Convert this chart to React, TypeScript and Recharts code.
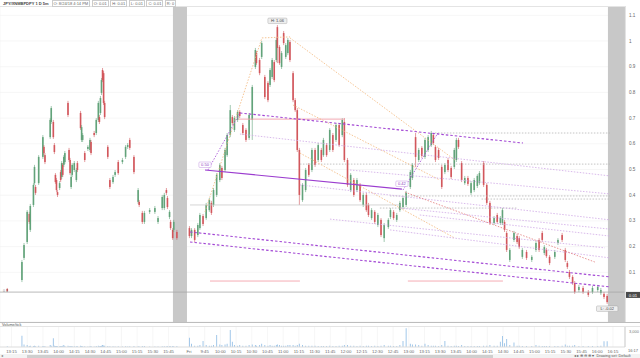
import React from 'react';
import {
  ComposedChart,
  BarChart,
  Bar,
  XAxis,
  YAxis,
  CartesianGrid,
  ReferenceArea,
  ReferenceLine,
  ReferenceDot,
} from 'recharts';

// [t (session minute on continuous axis), open, high, low, close, volume]
type Row = [number, number, number, number, number, number];

const thuBars: Row[] = [
  [7, 0.035, 0.039, 0.023, 0.027, 100],
  [21, 0.07, 0.148, 0.062, 0.14, 1780],
  [23, 0.156, 0.214, 0.148, 0.206, 400],
  [26, 0.218, 0.342, 0.21, 0.335, 300],
  [28, 0.327, 0.335, 0.288, 0.296, 150],
  [29, 0.265, 0.366, 0.257, 0.358, 200],
  [32, 0.362, 0.447, 0.354, 0.44, 150],
  [33, 0.447, 0.518, 0.44, 0.51, 200],
  [34, 0.432, 0.44, 0.401, 0.409, 100],
  [37, 0.447, 0.556, 0.44, 0.549, 200],
  [41, 0.549, 0.634, 0.541, 0.626, 150],
  [42, 0.588, 0.595, 0.556, 0.564, 100],
  [43, 0.556, 0.564, 0.521, 0.529, 100],
  [48, 0.626, 0.7, 0.619, 0.693, 300],
  [49, 0.685, 0.747, 0.677, 0.739, 200],
  [51, 0.685, 0.693, 0.619, 0.626, 1370],
  [52, 0.595, 0.603, 0.56, 0.568, 200],
  [53, 0.479, 0.486, 0.444, 0.451, 150],
  [54, 0.459, 0.467, 0.412, 0.42, 150],
  [55, 0.412, 0.42, 0.393, 0.401, 100],
  [57, 0.428, 0.455, 0.42, 0.447, 100],
  [58, 0.49, 0.498, 0.451, 0.459, 150],
  [59, 0.471, 0.533, 0.463, 0.525, 150],
  [60, 0.518, 0.525, 0.471, 0.479, 200],
  [61, 0.518, 0.556, 0.51, 0.549, 300],
  [62, 0.529, 0.572, 0.521, 0.564, 150],
  [65, 0.759, 0.767, 0.704, 0.712, 200],
  [66, 0.576, 0.584, 0.529, 0.537, 100],
  [67, 0.537, 0.545, 0.479, 0.486, 150],
  [68, 0.432, 0.479, 0.424, 0.471, 150],
  [69, 0.479, 0.525, 0.471, 0.518, 100],
  [71, 0.498, 0.533, 0.49, 0.525, 100],
  [73, 0.459, 0.506, 0.451, 0.498, 100],
  [74, 0.525, 0.533, 0.49, 0.498, 100],
  [77, 0.72, 0.728, 0.654, 0.661, 200],
  [78, 0.615, 0.673, 0.607, 0.665, 150],
  [79, 0.615, 0.642, 0.607, 0.634, 100],
  [81, 0.564, 0.572, 0.529, 0.537, 100],
  [84, 0.58, 0.595, 0.572, 0.588, 80],
  [86, 0.576, 0.623, 0.568, 0.615, 100],
  [87, 0.607, 0.615, 0.556, 0.564, 150],
  [90, 0.642, 0.65, 0.626, 0.634, 80],
  [92, 0.642, 0.7, 0.634, 0.693, 150],
  [94, 0.693, 0.767, 0.685, 0.759, 200],
  [95, 0.704, 0.712, 0.677, 0.685, 100],
  [96, 0.72, 0.786, 0.712, 0.778, 150],
  [97, 0.798, 0.856, 0.79, 0.848, 200],
  [98, 0.887, 0.895, 0.84, 0.848, 300],
  [99, 0.875, 0.883, 0.751, 0.759, 250],
  [100, 0.759, 0.767, 0.696, 0.704, 200],
  [103, 0.588, 0.595, 0.541, 0.549, 150],
  [105, 0.459, 0.467, 0.424, 0.432, 100],
  [108, 0.451, 0.479, 0.444, 0.471, 100],
  [110, 0.479, 0.498, 0.471, 0.49, 80],
  [113, 0.529, 0.537, 0.479, 0.486, 100],
  [117, 0.529, 0.545, 0.521, 0.537, 80],
  [120, 0.549, 0.595, 0.541, 0.588, 100],
  [122, 0.588, 0.603, 0.58, 0.595, 80],
  [124, 0.615, 0.623, 0.576, 0.584, 100],
  [128, 0.549, 0.556, 0.482, 0.49, 150],
  [132, 0.374, 0.428, 0.366, 0.42, 100],
  [133, 0.374, 0.381, 0.354, 0.362, 80],
  [136, 0.331, 0.339, 0.288, 0.296, 150],
  [138, 0.296, 0.339, 0.288, 0.331, 150],
  [143, 0.335, 0.35, 0.327, 0.342, 80],
  [148, 0.335, 0.358, 0.327, 0.35, 80],
  [151, 0.296, 0.319, 0.288, 0.311, 80],
  [155, 0.35, 0.401, 0.342, 0.393, 100],
  [157, 0.35, 0.409, 0.342, 0.401, 100],
  [159, 0.42, 0.428, 0.401, 0.409, 80],
  [160, 0.389, 0.397, 0.346, 0.354, 100],
  [162, 0.315, 0.342, 0.307, 0.335, 100],
  [163, 0.296, 0.304, 0.265, 0.272, 100],
  [165, 0.265, 0.272, 0.226, 0.233, 150],
  [166, 0.265, 0.304, 0.257, 0.296, 100],
  [169, 0.257, 0.265, 0.226, 0.233, 150],
];

const friAmBars: Row[] = [
  [181, 0.272, 0.28, 0.233, 0.241, 1460],
  [183, 0.241, 0.272, 0.233, 0.265, 500],
  [186, 0.265, 0.272, 0.218, 0.226, 200],
  [189, 0.245, 0.292, 0.237, 0.284, 200],
  [191, 0.272, 0.331, 0.265, 0.323, 300],
  [194, 0.319, 0.327, 0.28, 0.288, 945],
  [197, 0.311, 0.37, 0.304, 0.362, 300],
  [200, 0.342, 0.389, 0.335, 0.381, 200],
  [202, 0.37, 0.378, 0.323, 0.331, 200],
  [204, 0.362, 0.428, 0.354, 0.42, 300],
  [207, 0.401, 0.486, 0.393, 0.479, 1890],
  [210, 0.459, 0.525, 0.451, 0.518, 400],
  [212, 0.506, 0.514, 0.459, 0.467, 300],
  [215, 0.498, 0.584, 0.49, 0.576, 400],
  [217, 0.556, 0.642, 0.549, 0.634, 500],
  [220, 0.634, 0.751, 0.626, 0.731, 2680],
  [222, 0.704, 0.712, 0.673, 0.681, 830],
  [224, 0.654, 0.708, 0.646, 0.7, 300],
  [227, 0.693, 0.731, 0.685, 0.724, 200],
  [229, 0.724, 0.731, 0.7, 0.708, 300],
  [232, 0.673, 0.681, 0.634, 0.642, 200],
  [235, 0.654, 0.661, 0.607, 0.615, 200],
  [238, 0.623, 0.72, 0.615, 0.712, 300],
  [241, 0.693, 0.829, 0.615, 0.821, 400],
  [244, 0.899, 0.973, 0.891, 0.965, 300],
  [245, 0.953, 0.961, 0.907, 0.914, 200],
  [248, 0.926, 0.934, 0.867, 0.875, 300],
  [250, 0.938, 1.0, 0.93, 0.992, 500],
  [253, 0.86, 0.868, 0.774, 0.782, 300],
  [256, 0.837, 0.844, 0.762, 0.77, 200],
  [258, 0.829, 0.895, 0.821, 0.887, 300],
  [260, 0.86, 0.934, 0.852, 0.926, 200],
  [262, 0.918, 0.926, 0.84, 0.848, 200],
  [264, 0.926, 1.012, 0.918, 1.004, 300],
  [265, 1.054, 1.062, 0.914, 0.973, 400],
  [267, 0.977, 0.984, 0.907, 0.914, 300],
  [269, 0.899, 0.961, 0.891, 0.953, 200],
  [271, 1.031, 1.039, 0.984, 0.992, 200],
  [273, 0.938, 0.992, 0.93, 0.984, 200],
  [275, 0.953, 1.012, 0.945, 1.004, 300],
  [277, 0.996, 1.004, 0.918, 0.926, 300],
  [280, 0.875, 0.883, 0.762, 0.77, 300],
  [282, 0.77, 0.778, 0.724, 0.731, 200],
  [284, 0.731, 0.739, 0.568, 0.576, 300],
  [286, 0.576, 0.584, 0.362, 0.401, 500],
  [289, 0.381, 0.447, 0.374, 0.44, 300],
  [292, 0.42, 0.506, 0.412, 0.498, 200],
  [295, 0.518, 0.525, 0.471, 0.479, 200],
  [298, 0.498, 0.584, 0.49, 0.576, 200],
  [301, 0.576, 0.584, 0.51, 0.518, 200],
  [304, 0.537, 0.603, 0.529, 0.595, 150],
  [307, 0.576, 0.584, 0.529, 0.537, 150],
  [309, 0.556, 0.623, 0.549, 0.615, 150],
  [312, 0.595, 0.603, 0.549, 0.556, 150],
  [315, 0.576, 0.661, 0.568, 0.654, 200],
  [318, 0.634, 0.642, 0.568, 0.576, 150],
  [321, 0.615, 0.681, 0.607, 0.673, 150],
  [324, 0.673, 0.681, 0.588, 0.595, 200],
  [327, 0.634, 0.7, 0.626, 0.693, 200],
  [329, 0.685, 0.7, 0.529, 0.537, 300],
  [332, 0.537, 0.545, 0.432, 0.44, 300],
  [335, 0.42, 0.486, 0.412, 0.479, 200],
  [338, 0.459, 0.467, 0.393, 0.401, 200],
  [341, 0.42, 0.467, 0.412, 0.459, 150],
  [344, 0.44, 0.447, 0.374, 0.381, 200],
  [347, 0.362, 0.409, 0.354, 0.401, 150],
  [350, 0.401, 0.409, 0.335, 0.342, 200],
  [352, 0.362, 0.37, 0.315, 0.323, 200],
  [355, 0.311, 0.35, 0.304, 0.342, 150],
  [358, 0.335, 0.342, 0.288, 0.296, 200],
  [361, 0.284, 0.331, 0.276, 0.323, 150],
  [364, 0.304, 0.311, 0.237, 0.245, 200],
  [367, 0.233, 0.292, 0.218, 0.284, 300],
];

const friPmBars: Row[] = [
  [371, 0.276, 0.311, 0.269, 0.304, 200],
  [373, 0.315, 0.35, 0.307, 0.342, 200],
  [376, 0.335, 0.342, 0.304, 0.311, 150],
  [379, 0.304, 0.331, 0.296, 0.323, 150],
  [382, 0.342, 0.378, 0.335, 0.37, 300],
  [385, 0.354, 0.397, 0.346, 0.389, 945],
  [388, 0.362, 0.417, 0.354, 0.409, 2945],
  [392, 0.432, 0.498, 0.424, 0.49, 500],
  [394, 0.467, 0.525, 0.459, 0.518, 400],
  [397, 0.626, 0.642, 0.51, 0.549, 400],
  [400, 0.537, 0.584, 0.529, 0.576, 300],
  [403, 0.584, 0.591, 0.545, 0.553, 200],
  [406, 0.549, 0.623, 0.541, 0.615, 500],
  [409, 0.576, 0.634, 0.568, 0.626, 300],
  [412, 0.595, 0.65, 0.588, 0.642, 200],
  [414, 0.634, 0.642, 0.595, 0.603, 200],
  [416, 0.588, 0.595, 0.529, 0.537, 200],
  [419, 0.576, 0.584, 0.537, 0.545, 150],
  [422, 0.51, 0.518, 0.424, 0.432, 300],
  [425, 0.49, 0.525, 0.482, 0.518, 945],
  [428, 0.537, 0.545, 0.49, 0.498, 200],
  [431, 0.506, 0.514, 0.463, 0.471, 150],
  [434, 0.51, 0.584, 0.502, 0.576, 200],
  [436, 0.537, 0.623, 0.529, 0.615, 200],
  [438, 0.615, 0.623, 0.58, 0.588, 150],
  [441, 0.525, 0.533, 0.451, 0.459, 300],
  [444, 0.447, 0.475, 0.44, 0.467, 150],
  [447, 0.467, 0.475, 0.436, 0.444, 150],
  [450, 0.409, 0.455, 0.401, 0.447, 150],
  [453, 0.42, 0.467, 0.412, 0.459, 150],
  [456, 0.436, 0.482, 0.428, 0.475, 150],
  [458, 0.447, 0.494, 0.44, 0.486, 150],
  [462, 0.525, 0.533, 0.432, 0.44, 200],
  [465, 0.44, 0.447, 0.362, 0.37, 200],
  [468, 0.37, 0.378, 0.284, 0.292, 300],
  [472, 0.292, 0.319, 0.284, 0.311, 200],
  [475, 0.323, 0.331, 0.288, 0.296, 200],
  [478, 0.292, 0.319, 0.284, 0.311, 830],
  [480, 0.292, 0.35, 0.284, 0.342, 1730],
  [482, 0.296, 0.304, 0.257, 0.265, 600],
  [484, 0.253, 0.261, 0.179, 0.187, 1260],
  [487, 0.148, 0.195, 0.14, 0.187, 300],
  [491, 0.226, 0.261, 0.218, 0.253, 700],
  [494, 0.241, 0.249, 0.21, 0.218, 200],
  [496, 0.233, 0.241, 0.191, 0.198, 200],
  [499, 0.16, 0.195, 0.152, 0.187, 150],
  [503, 0.179, 0.187, 0.148, 0.156, 150],
  [508, 0.148, 0.167, 0.14, 0.16, 150],
  [512, 0.187, 0.222, 0.179, 0.214, 300],
  [515, 0.226, 0.233, 0.179, 0.187, 200],
  [518, 0.253, 0.261, 0.218, 0.226, 150],
  [520, 0.175, 0.206, 0.167, 0.198, 150],
  [522, 0.187, 0.195, 0.156, 0.163, 150],
  [525, 0.16, 0.167, 0.128, 0.136, 150],
  [530, 0.16, 0.187, 0.152, 0.179, 150],
  [533, 0.214, 0.233, 0.206, 0.226, 150],
  [537, 0.245, 0.253, 0.218, 0.226, 200],
  [540, 0.187, 0.195, 0.14, 0.148, 400],
  [542, 0.136, 0.144, 0.113, 0.121, 200],
  [544, 0.101, 0.109, 0.074, 0.082, 200],
  [547, 0.082, 0.089, 0.051, 0.058, 200],
  [549, 0.058, 0.066, 0.016, 0.023, 300],
  [553, 0.031, 0.051, 0.023, 0.043, 150],
  [557, 0.039, 0.047, 0.016, 0.023, 150],
  [562, 0.023, 0.031, 0.004, 0.012, 150],
  [566, 0.023, 0.047, 0.016, 0.039, 150],
  [571, 0.031, 0.051, 0.023, 0.043, 150],
  [574, 0.019, 0.039, 0.012, 0.031, 200],
  [577, 0.016, 0.023, -0.004, 0.004, 900],
  [580, 0.008, 0.016, -0.023, -0.016, 900],
];

// time-axis labels
const thuTimes = ['13:15', '13:30', '13:45', '14:00', '14:15', '14:30', '14:45', '15:00', '15:15', '15:30', '15:45'];
const friTimes = [
  '9:30', '9:45', '10:00', '10:15', '10:30', '10:45', '11:00', '11:15', '11:30', '11:45',
  '12:00', '12:15', '12:30', '12:45', '13:00', '13:15', '13:30', '13:45', '14:00', '14:15',
  '14:30', '14:45', '15:00', '15:15', '15:30', '15:45', '16:00', '16:15',
];
const priceTicks = [0.1, 0.2, 0.3, 0.4, 0.5, 0.6, 0.7, 0.8, 0.9, 1, 1.1];
const volumeTicks = [0, 1000, 2000, 3000];

// drawing-tool segments: [t1, price1, t2, price2]
const pitchforkMedian = [[195.8, 0.498, 383.9, 0.424]];
const pitchforkHandles = [
  [198.6, 0.498, 229.2, 0.72],
  [384.9, 0.42, 418.3, 0.642],
];
const purpleDashed = [
  [229.2, 0.72, 499.5, 0.603],
  [181.5, 0.257, 582.6, 0.082],
  [181.5, 0.218, 582.6, 0.043],
];
const purpleDotted = [
  [229.2, 0.638, 582.6, 0.475],
  [334.3, 0.498, 582.6, 0.405],
  [286.5, 0.44, 582.6, 0.304],
  [382, 0.35, 582.6, 0.268],
  [401, 0.323, 582.6, 0.241],
  [372.5, 0.265, 582.6, 0.156],
  [315.2, 0.307, 577.8, 0.195],
];
const grayDotted = [
  [415.4, 0.642, 582.6, 0.642],
  [286.5, 0.521, 582.6, 0.521],
  [372.5, 0.397, 582.6, 0.397],
  [460, 0.385, 582.6, 0.385],
  [362.9, 0.35, 493.7, 0.35],
];
const graySolid = [[181.5, 0.362, 382, 0.362]];
const orangeDotted = [
  [195.8, 0.335, 250.2, 1.012],
  [250.2, 1.012, 277, 1.016],
  [277, 1.012, 434.5, 0.537],
  [279.8, 0.751, 420.2, 0.459],
  [286.5, 0.564, 434.5, 0.233],
];
const redDotted = [[386.8, 0.412, 568.2, 0.14]];
const pinkSolid = [
  [200.6, 0.066, 286.5, 0.066],
  [389.6, 0.066, 480.4, 0.066],
  [227.3, 0.696, 329.5, 0.696],
];
const horizontalPrice = 0.023;
const lastPrice = 0.012;
const highMark = { t: 265, p: 1.062, text: 'H: 1.06' };
const lowMark = { t: 580, p: -0.023, text: 'L: -0.02' };
const forkLabels = [
  { t: 195.8, p: 0.498, text: '0.50' },
  { t: 383.9, p: 0.424, text: '0.42' },
];
const sessionBands = [
  [165.2, 178.6],
  [580.7, 597],
];

const X_DOMAIN: [number, number] = [0, 597];
const Y_DOMAIN: [number, number] = [-0.0934, 1.1362];
const GREEN = '#62a37a';
const RED = '#d2575c';
const FONT = '"Liberation Sans", Arial, sans-serif';

const toMin = (s: string) => {
  const [h, m] = s.split(':').map(Number);
  return h * 60 + m;
};
// session clock -> continuous axis minute (overnight compressed)
const thuAxis = (s: string) => toMin(s) - 784;
const friAxis = (s: string) => toMin(s) - 389.5;

const timeTicks = [
  ...thuTimes.map((s) => ({ t: thuAxis(s), label: s })),
  ...friTimes.map((s, i) => ({ t: friAxis(s), label: i === 0 ? 'Fri' : s })),
];
const tickValues = timeTicks.map((d) => d.t);
const tickLabel = (v: number) => {
  const f = timeTicks.find((d) => Math.abs(d.t - v) < 0.01);
  return f ? f.label : '';
};

const bars = [...thuBars, ...friAmBars, ...friPmBars].map(([t, o, h, l, c, v]) => ({
  t,
  o,
  h,
  l,
  c,
  v,
  range: [l, h],
}));

const Candle = (props: any) => {
  const { x, y, width, height, payload } = props;
  if (!payload || x == null || y == null) return null;
  const { o, h, l, c } = payload;
  const color = c >= o ? GREEN : RED;
  const cx = x + width / 2;
  const span = h - l || 1e-9;
  const yo = y + ((h - o) / span) * height;
  const yc = y + ((h - c) / span) * height;
  const top = Math.min(yo, yc);
  const bh = Math.max(Math.abs(yo - yc), 1);
  return (
    <g>
      <line x1={cx} x2={cx} y1={y} y2={y + height} stroke={color} strokeWidth={0.6} />
      <rect x={cx - 0.8} y={top} width={1.6} height={bh} fill={color} />
    </g>
  );
};

const seg = (s: number[]) => [
  { x: s[0], y: s[1] },
  { x: s[2], y: s[3] },
];

const PriceTick = (props: any) => {
  const { x, y, payload } = props;
  const v = Number(payload.value.toFixed(1));
  return (
    <text x={x + 2} y={y + 1.6} fontSize={4.6} fill="#666" fontFamily={FONT}>
      {String(v)}
    </text>
  );
};

const TimeTick = (props: any) => {
  const { x, y, payload } = props;
  return (
    <text x={x} y={y + 4} fontSize={4.3} fill="#666" textAnchor="middle" fontFamily={FONT}>
      {tickLabel(payload.value)}
    </text>
  );
};

const VolTick = (props: any) => {
  const { x, y, payload } = props;
  return (
    <text x={x + 2} y={y + 1.5} fontSize={4} fill="#777" fontFamily={FONT}>
      {Number(payload.value).toLocaleString('en-US')}
    </text>
  );
};

const boxLabel = (text: string, fill: string, stroke: string, color: string, dy: number) =>
  (p: any) => {
    const w = text.length * 2.3 + 3;
    return (
      <g>
        <rect x={p.cx - w / 2} y={p.cy + dy} width={w} height={5.5} rx={1} fill={fill} stroke={stroke} strokeWidth={0.4} />
        <text x={p.cx} y={p.cy + dy + 4.2} fontSize={4} textAnchor="middle" fill={color} fontFamily={FONT}>
          {text}
        </text>
      </g>
    );
  };

const headerItems = ['O: 8/24/18 4:14 PM', 'O: 0.01', 'H: 0.01', 'L: 0.01', 'C: 0.01', 'R: 0'];

export default function App() {
  return (
    <div
      style={{
        position: 'absolute',
        left: 0,
        top: 0,
        width: 640,
        height: 358,
        background: '#fff',
        fontFamily: FONT,
        overflow: 'hidden',
      }}
    >
      <div style={{ position: 'absolute', left: 0, top: 0 }}>
        <ComposedChart width={640} height={322} data={bars} margin={{ top: 6, right: 0, left: 0, bottom: 0 }}>
          <CartesianGrid stroke="#f0f0f0" strokeWidth={0.6} />
          <XAxis
            dataKey="t"
            type="number"
            domain={X_DOMAIN}
            ticks={tickValues}
            tick={false}
            tickLine={false}
            axisLine={false}
            height={0}
            allowDataOverflow
          />
          <YAxis
            orientation="right"
            width={15}
            domain={Y_DOMAIN}
            ticks={priceTicks}
            tick={<PriceTick />}
            tickLine={false}
            tickSize={0}
            axisLine={{ stroke: '#cccccc' }}
            allowDataOverflow
          />
          {sessionBands.map((b, i) => (
            <ReferenceArea key={'band' + i} x1={b[0]} x2={b[1]} fill="#c8c8c8" fillOpacity={1} stroke="none" ifOverflow="visible" />
          ))}
          <ReferenceLine y={horizontalPrice} stroke="#a8a8a8" strokeWidth={0.8} />
          {graySolid.map((s, i) => (
            <ReferenceLine key={'gs' + i} segment={seg(s)} stroke="#c4c4c4" strokeWidth={0.7} />
          ))}
          {pinkSolid.map((s, i) => (
            <ReferenceLine key={'pk' + i} segment={seg(s)} stroke="#f4a3ad" strokeWidth={0.9} />
          ))}
          {grayDotted.map((s, i) => (
            <ReferenceLine key={'gd' + i} segment={seg(s)} stroke="#b5b5b5" strokeWidth={0.8} strokeDasharray="1.5 1.5" />
          ))}
          {orangeDotted.map((s, i) => (
            <ReferenceLine key={'od' + i} segment={seg(s)} stroke="#f2b67a" strokeWidth={0.8} strokeDasharray="1.5 1.5" />
          ))}
          {purpleDotted.map((s, i) => (
            <ReferenceLine key={'pd' + i} segment={seg(s)} stroke="#cfa8e6" strokeWidth={0.8} strokeDasharray="1.5 1.5" />
          ))}
          {redDotted.map((s, i) => (
            <ReferenceLine key={'rd' + i} segment={seg(s)} stroke="#e27a7a" strokeWidth={0.8} strokeDasharray="1.5 1.5" />
          ))}
          <Bar dataKey="range" shape={<Candle />} barSize={2} isAnimationActive={false} />
          {purpleDashed.map((s, i) => (
            <ReferenceLine key={'pD' + i} segment={seg(s)} stroke="#a246d4" strokeWidth={1.1} strokeDasharray="2.5 2" />
          ))}
          {pitchforkHandles.map((s, i) => (
            <ReferenceLine key={'ph' + i} segment={seg(s)} stroke="#a246d4" strokeWidth={0.8} strokeDasharray="1.5 1.5" />
          ))}
          {pitchforkMedian.map((s, i) => (
            <ReferenceLine key={'pm' + i} segment={seg(s)} stroke="#9b3ccf" strokeWidth={1.2} />
          ))}
          {forkLabels.map((f, i) => (
            <ReferenceDot
              key={'fl' + i}
              x={f.t}
              y={f.p}
              r={0}
              shape={boxLabel(f.text, '#ffffff', '#b27ad8', '#8e3bc2', -8)}
            />
          ))}
          <ReferenceDot x={highMark.t} y={highMark.p} r={0} shape={boxLabel(highMark.text, '#eeeeee', '#9a9a9a', '#444', -7)} />
          <ReferenceDot x={lowMark.t} y={lowMark.p} r={0} shape={boxLabel(lowMark.text, '#eeeeee', '#9a9a9a', '#444', 2)} />
          <ReferenceDot
            x={X_DOMAIN[1]}
            y={lastPrice}
            r={0}
            shape={(p: any) => (
              <g>
                <rect x={p.cx + 1} y={p.cy - 3} width={14} height={6} fill="#4a4a4a" />
                <text x={p.cx + 8} y={p.cy + 1.6} fontSize={4.3} fill="#fff" textAnchor="middle" fontFamily={FONT}>
                  0.01
                </text>
              </g>
            )}
          />
        </ComposedChart>
      </div>

      {/* header */}
      <div
        style={{
          position: 'absolute',
          left: 0,
          top: 0,
          width: 625,
          height: 6,
          borderBottom: '1px solid #e4e4e4',
          display: 'flex',
          alignItems: 'center',
          fontSize: 4,
          lineHeight: '5px',
          color: '#444',
          background: '#fff',
        }}
      >
        <span style={{ fontWeight: 700, marginLeft: 3, marginRight: 3 }}>JPY/XNMBPDPY 1 D 5m</span>
        {headerItems.map((s, i) => (
          <span key={i} style={{ border: '0.5px solid #ccc', padding: '0 1px', marginRight: 1.5, color: '#666' }}>
            {s}
          </span>
        ))}
      </div>
      <div style={{ position: 'absolute', left: 3, top: 289, fontSize: 3.5, color: '#888' }}>0 1</div>

      {/* volume panel */}
      <div
        style={{
          position: 'absolute',
          left: 0,
          top: 322,
          width: 640,
          height: 5,
          borderTop: '1px solid #bdbdbd',
          borderBottom: '1px solid #e4e4e4',
          fontSize: 3.8,
          lineHeight: '4px',
          color: '#555',
          paddingLeft: 2,
          boxSizing: 'border-box',
        }}
      >
        Volume/tick
      </div>
      <div style={{ position: 'absolute', left: 0, top: 322 }}>
        <BarChart width={640} height={32} data={bars} margin={{ top: 5, right: 0, left: 0, bottom: 0 }}>
          <CartesianGrid stroke="#f0f0f0" strokeWidth={0.6} horizontal={false} />
          <XAxis
            dataKey="t"
            type="number"
            domain={X_DOMAIN}
            ticks={tickValues}
            interval={0}
            tick={<TimeTick />}
            tickLine={false}
            tickSize={0}
            axisLine={{ stroke: '#dddddd' }}
            height={7}
            allowDataOverflow
          />
          <YAxis
            orientation="right"
            width={15}
            domain={[0, 3150]}
            ticks={volumeTicks}
            tick={<VolTick />}
            tickLine={false}
            tickSize={0}
            axisLine={{ stroke: '#cccccc' }}
          />
          <Bar dataKey="v" fill="#9cc4e8" barSize={1.5} isAnimationActive={false} />
        </BarChart>
      </div>
      <div style={{ position: 'absolute', left: 628, top: 348, fontSize: 4, color: '#666' }}>16:17</div>

      {/* footer / scrollbar */}
      <div style={{ position: 'absolute', left: 0, top: 354, width: 640, height: 4, background: '#f3f3f3' }} />
      <div style={{ position: 'absolute', left: 1, top: 354, fontSize: 4, lineHeight: '4px', color: '#777' }}>◂</div>
      <div style={{ position: 'absolute', left: 27, top: 354.5, width: 466, height: 3, background: '#cfcfcf' }} />
      <div style={{ position: 'absolute', left: 574, top: 354, fontSize: 3.8, lineHeight: '4px', color: '#555', whiteSpace: 'nowrap' }}>
        ◂ ▸ ⊕ ⊖ ⊕ ▾ &nbsp;Drawing set: Default
      </div>
    </div>
  );
}
